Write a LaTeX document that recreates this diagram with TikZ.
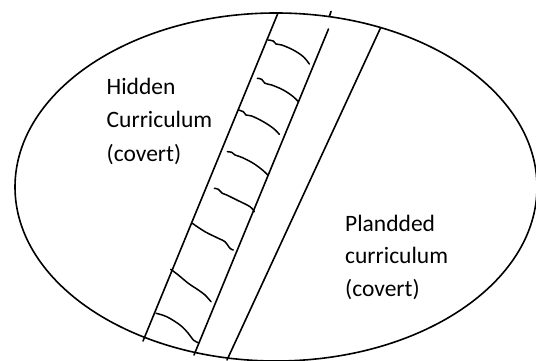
\documentclass[tikz,border=0pt]{standalone}
\usepackage{fontspec}
\setmainfont{Carlito}
\begin{document}
\begin{tikzpicture}[x=1pt,y=-1pt,
  ink/.style={line width=1.6pt,black,line cap=round,line join=round},
  rung/.style={ink,line width=1.5pt,smooth,tension=0.6},
  lbl/.style={anchor=base west,inner sep=0pt,font=\fontsize{23.5}{33}\selectfont}]
\useasboundingbox (0,0) rectangle (536,361);
% outer ellipse
\draw[ink] (276,187) ellipse [x radius=261, y radius=174];
% three slanted lines
\coordinate (a1) at (278,13);  \coordinate (a2) at (143,341);
\coordinate (b1) at (328.5,29); \coordinate (b2) at (194,355);
\coordinate (c1) at (380.5,28); \coordinate (c2) at (227,360);
\coordinate (t1) at (331,11.5); \coordinate (t2) at (329.5,16);
\draw[ink] (a1) -- (a2);
\draw[ink] (b1) -- (b2);
\draw[ink] (c1) -- (c2);
\draw[ink] (t1) -- (t2);
% ladder rungs
\draw[rung] plot coordinates {(268.3,40) (273.3,41) (276,44) (281.7,45) (293.3,50) (303.3,56.7) (309.3,64)};
\draw[rung] plot coordinates {(257.3,78.3) (261.7,79.3) (265,83.3) (271.7,85) (283.3,90) (293.3,96.7) (298.3,101.7)};
\draw[rung] plot coordinates {(238.3,110) (243.3,111.7) (246,115) (251.7,116) (263.3,121.7) (273.3,128.3) (279.3,134.3)};
\draw[rung] plot coordinates {(227.3,151.7) (231.7,152.3) (235,155) (241.7,157.3) (253.3,163.3) (263.3,170.7) (267.7,175)};
\draw[rung] plot coordinates {(214.3,188.3) (218.3,189.3) (222.3,193.3) (226.7,195) (238.3,200.7) (250,206.7) (254.3,211.7)};
\draw[rung] plot coordinates {(192.3,223.3) (205,231.7) (218.3,238.3) (225,241.7) (230,248.3) (233.3,250)};
\draw[rung] plot coordinates {(170.7,269.3) (178.3,275) (188.3,283.3) (198.3,290) (205,295) (211,301.7)};
\draw[rung] plot coordinates {(156,313.3) (166.7,316.7) (180,325) (188.3,333.3) (193.3,340) (198.3,342.7)};
% labels
\node[lbl] (h1) at (106.5,95) {Hidden};
\node[lbl] (h2) at (106.5,128) {Curriculum};
\node[lbl] (h3) at (106.5,161) {(covert)};
\node[lbl] (p1) at (345,231) {Plandded};
\node[lbl] (p2) at (345,263.5) {curriculum};
\node[lbl] (p3) at (345,296) {(covert)};
\end{tikzpicture}
\end{document}
